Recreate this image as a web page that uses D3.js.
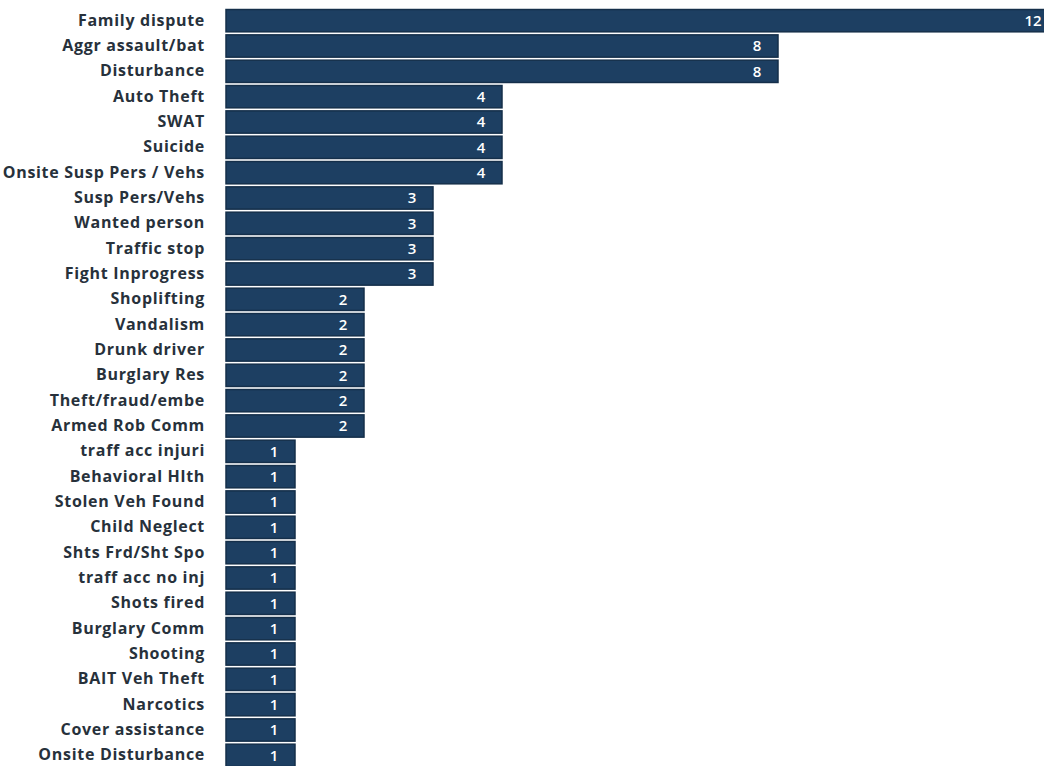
<!DOCTYPE html>
<html><head><meta charset="utf-8">
<script src="https://cdn.jsdelivr.net/npm/d3@7"></script>
<style>html,body{margin:0;padding:0;background:#fff;}svg{display:block;}</style>
</head><body>
<svg id="chart" width="1044" height="766"></svg>
<script>
const categories = ["Family dispute","Aggr assault/bat","Disturbance","Auto Theft","SWAT","Suicide","Onsite Susp Pers / Vehs","Susp Pers/Vehs","Wanted person","Traffic stop","Fight Inprogress","Shoplifting","Vandalism","Drunk driver","Burglary Res","Theft/fraud/embe","Armed Rob Comm","traff acc injuri","Behavioral Hlth","Stolen Veh Found","Child Neglect","Shts Frd/Sht Spo","traff acc no inj","Shots fired","Burglary Comm","Shooting","BAIT Veh Theft","Narcotics","Cover assistance","Onsite Disturbance"];
const counts = [12,8,8,4,4,4,4,3,3,3,3,2,2,2,2,2,2,1,1,1,1,1,1,1,1,1,1,1,1,1];

const svg = d3.select("#chart");
const x = d3.scaleLinear().domain([0, 12]).range([226, 1054]);
const y = d3.scaleBand().domain(categories).range([8, 768]).paddingInner(0.12).paddingOuter(0.06);

const data = categories.map((c, i) => ({c, v: counts[i]}));

svg.append("g").selectAll("rect").data(data).join("rect")
  .attr("x", x(0)).attr("y", d => y(d.c))
  .attr("width", d => x(d.v) - x(0)).attr("height", y.bandwidth())
  .attr("fill", "#1d3f62").attr("stroke", "#152f4a").attr("stroke-width", 1.5);

svg.append("g").selectAll("text").data(data).join("text")
  .attr("x", d => x(d.v) - 21).attr("y", d => y(d.c) + y.bandwidth()/2)
  .attr("dy", "0.36em").attr("text-anchor", "middle")
  .attr("fill", "#fff").attr("font-family", "'Open Sans', sans-serif").attr("font-weight", "600").attr("font-size", 15)
  .text(d => d.v);

const yAxis = d3.axisLeft(y).tickSize(0).tickPadding(0);
const ag = svg.append("g").attr("transform", "translate(205,0)").call(yAxis);
ag.select(".domain").remove();
ag.selectAll("text").attr("fill", "#27313b").attr("font-family", "'Open Sans', sans-serif").attr("font-weight", "bold").attr("font-size", 16).attr("letter-spacing", "0.7px");
</script>
</body></html>
